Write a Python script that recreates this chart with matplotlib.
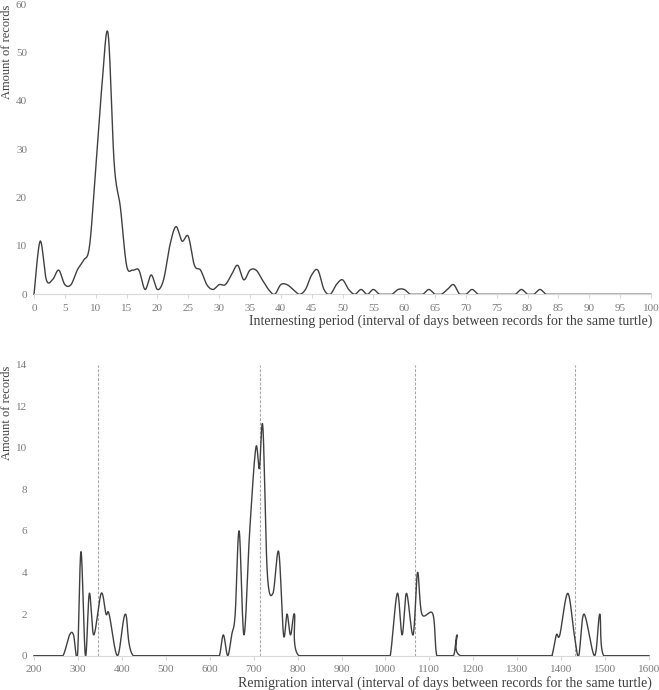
import matplotlib
matplotlib.use("Agg")
import matplotlib.pyplot as plt
import numpy as np

plt.rcParams["font.family"] = ["Liberation Serif", "DejaVu Serif"]

# internesting period: records per day interval, 0..100
inter_days = list(range(0, 101))
inter_counts = [
    0, 11, 3, 3, 5, 2, 2, 5, 7, 10,
    26, 43, 54, 27, 18, 6, 5, 5, 1, 4,
    1, 3, 10, 14, 11, 12, 6, 5, 2, 1,
    2, 2, 4, 6, 3, 5, 5, 3, 1, 0,
    2, 2, 1, 0, 1, 4, 5, 1, 0, 2,
    3, 1, 0, 1, 0, 1, 0, 0, 0, 1,
    1, 0, 0, 0, 1, 0, 0, 1, 2, 0,
    0, 1, 0, 0, 0, 0, 0, 0, 0, 1,
    0, 0, 1, 0, 0, 0, 0, 0, 0, 0,
    0, 0, 0, 0, 0, 0, 0, 0, 0, 0,
    0,
]

# remigration interval: records per interval (days)
remig_days = [
    200, 250, 266, 281, 290, 299, 307, 317, 326, 336, 353, 364, 371, 390, 408, 426,
    500, 610, 622, 631, 641, 650, 658, 667, 678, 691, 705, 713, 721, 731, 744,
    757, 768, 776, 784, 793, 803,
    900, 1000, 1011, 1027, 1038, 1048, 1063, 1073, 1083, 1108, 1117,
    1136, 1155, 1163, 1171,
    1280, 1370, 1379, 1389, 1397, 1415, 1430, 1440, 1452, 1476, 1488, 1497,
    1550, 1600,
]
remig_counts = [
    0, 0, 0, 1, 1, 0, 5, 0, 3, 1, 3, 2, 2, 0, 2, 0,
    0, 0, 0, 1, 0, 1, 2, 6, 1, 6, 10, 9, 11, 4, 3,
    5, 1, 2, 1, 2, 0,
    0, 0, 0, 3, 1, 3, 1, 4, 2, 2, 0,
    0, 0, 1, 0,
    0, 0, 0, 1, 1, 3, 1, 0, 2, 0, 2, 0,
    0, 0,
]

# mean remigration intervals (dashed markers)
remig_means = [345, 715, 1068, 1432]


def smooth_curve(xs, ys, n=24):
    """Excel-like smoothed line: cubic Bezier through every point."""
    p = np.column_stack([xs, ys]).astype(float)
    ext = np.vstack([p[0], p, p[-1]])
    t = np.linspace(0.0, 1.0, n)[:, None]
    segs = []
    for i in range(len(p) - 1):
        p0, p1, p2, p3 = ext[i], ext[i + 1], ext[i + 2], ext[i + 3]
        c1 = p1 + (p2 - p0) / 6.0
        c2 = p2 - (p3 - p1) / 6.0
        segs.append((1 - t) ** 3 * p1 + 3 * (1 - t) ** 2 * t * c1
                    + 3 * (1 - t) * t ** 2 * c2 + t ** 3 * p2)
    out = np.vstack(segs)
    # counts can't go negative: keep the smoothing from dipping under the axis
    return out[:, 0], np.clip(out[:, 1], 0, None)


line_color = "#404040"
tick_color = "#7a7a7a"
axis_color = "#d9d9d9"
label_color = "#404040"


def style_axis(ax):
    for side in ("top", "right", "left"):
        ax.spines[side].set_visible(False)
    ax.spines["bottom"].set_color(axis_color)
    ax.spines["bottom"].set_linewidth(0.8)
    ax.tick_params(axis="x", colors=axis_color, labelcolor=tick_color,
                   length=3, width=0.8, labelsize=8, pad=4)
    ax.tick_params(axis="y", length=0, labelcolor=tick_color, labelsize=8, pad=5)


fig = plt.figure(figsize=(6.59, 6.90), dpi=100)

ax1 = fig.add_axes([34 / 659, 1 - 294.3 / 690, 617 / 659, 290 / 690])
sx, sy = smooth_curve(inter_days, inter_counts)
ax1.plot(sx, sy, color=line_color, linewidth=1.0, clip_on=False)
ax1.set_xlim(0, 100)
ax1.set_ylim(0, 60)
ax1.set_xticks(np.arange(0, 101, 5))
ax1.set_yticks(np.arange(0, 61, 10))
style_axis(ax1)
fig.text(652 / 659, 1 - 321 / 690,
         "Internesting period (interval of days between records for the same turtle)",
         ha="right", va="center", fontsize=10, color=label_color)
fig.text(7 / 659, 1 - 5 / 690, "Amount of records", rotation=90,
         ha="center", va="top", fontsize=9, color=label_color)

ax2 = fig.add_axes([34 / 659, 1 - 655.7 / 690, 615 / 659, 291.2 / 690])
for m in remig_means:
    ax2.axvline(m, color="#a6a6a6", linewidth=0.8, linestyle=(0, (2.5, 1.5)))
rx, ry = smooth_curve(remig_days, remig_counts)
ax2.plot(rx, ry, color=line_color, linewidth=1.0, clip_on=False)
ax2.set_xlim(200, 1600)
ax2.set_ylim(0, 14)
ax2.set_xticks(np.arange(200, 1601, 100))
ax2.set_yticks(np.arange(0, 15, 2))
style_axis(ax2)
fig.text(652 / 659, 1 - 683 / 690,
         "Remigration interval (interval of days between records for the same turtle)",
         ha="right", va="center", fontsize=10, color=label_color)
fig.text(7 / 659, 1 - 366 / 690, "Amount of records", rotation=90,
         ha="center", va="top", fontsize=9, color=label_color)

fig.savefig("out.png", dpi=100)
